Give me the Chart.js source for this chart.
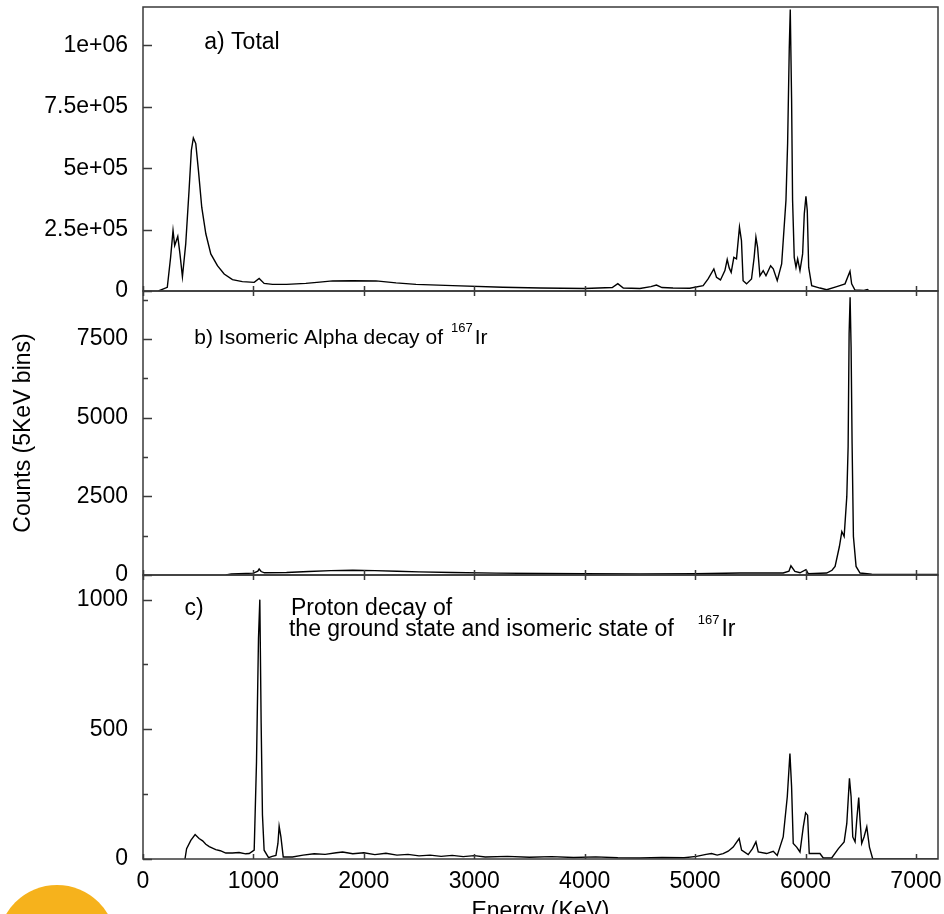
<!DOCTYPE html>
<html>
<head>
<meta charset="utf-8">
<script src="https://cdn.jsdelivr.net/npm/chart.js@4.4.1/dist/chart.umd.min.js"></script>
<style>
  html, body { margin: 0; padding: 0; background: #fff; overflow: hidden; }
  #wrap { position: relative; width: 944px; height: 914px; overflow: hidden; }
  #sun { position: absolute; left: -2px; top: 885px; width: 118px; height: 118px; border-radius: 50%; background: #f6b21c; }
  canvas { position: absolute; left: 0; top: 0; }
</style>
</head>
<body>
<div id="wrap">
  <div id="sun"></div>
  <canvas id="spectra" width="944" height="930"></canvas>
</div>
<script>
// Energy axis (keV)
const energyTicks = [0, 1000, 2000, 3000, 4000, 5000, 6000, 7000];
const energyTickLabels = ['0', '1000', '2000', '3000', '4000', '5000', '6000', '7000'];

// a) total spectrum
const totalEnergy = [140, 180, 220, 250, 272, 287, 315, 335, 357, 387, 417, 438, 456, 478, 502, 532, 569, 614, 674, 735,
  810, 900, 1007, 1052, 1097, 1173, 1300, 1475, 1600, 1717, 1900, 2110, 2292, 2473, 2805, 3259, 3600, 4000, 4250, 4300,
  4350, 4500, 4600, 4650, 4700, 4800, 4952, 5073, 5118, 5170, 5194, 5230, 5270, 5291, 5309, 5327, 5351, 5375, 5402, 5420,
  5435, 5466, 5511, 5535, 5551, 5566, 5587, 5617, 5642, 5684, 5708, 5744, 5784, 5823, 5838, 5853, 5862, 5874, 5883, 5898,
  5914, 5929, 5950, 5974, 5989, 6004, 6016, 6029, 6056, 6131, 6192, 6283, 6358, 6403, 6418, 6448, 6530, 6560, 6580, 7200];
const totalCounts = [0, 8000, 15000, 137000, 246000, 185000, 222000, 150000, 58000, 192000, 409000, 573000, 623000, 600000, 491000, 341000, 233000, 151000, 103000, 69000,
  46000, 38000, 35000, 51000, 31000, 27000, 27000, 31000, 36000, 41000, 42000, 41000, 33000, 27000, 22000, 15000, 12000, 10000, 14000, 30000,
  12000, 10000, 18000, 24000, 14000, 12000, 11000, 22000, 49000, 90000, 56000, 45000, 83000, 128000, 94000, 76000, 137000, 131000, 260000, 205000,
  42000, 29000, 49000, 137000, 219000, 178000, 62000, 83000, 62000, 103000, 90000, 42000, 110000, 369000, 600000, 988000, 1146000, 784000, 369000, 137000,
  96000, 131000, 83000, 151000, 314000, 385000, 328000, 96000, 22000, 12000, 5000, 18000, 29000, 80000, 29000, 4000, 2000, 6000, 0, 0];

// b) isomeric alpha decay of 167Ir
const alphaEnergy = [750, 800, 1000, 1040, 1052, 1070, 1100, 1300, 1500, 1700, 1900, 2100, 2300, 2500, 2800, 3200, 3600, 4000, 4500, 5000,
  5405, 5798, 5850, 5868, 5904, 5950, 6004, 6025, 6192, 6240, 6268, 6307, 6329, 6350, 6374, 6386, 6395, 6404, 6413, 6422,
  6434, 6458, 6494, 6600, 7200];
const alphaCounts = [0, 30, 60, 120, 190, 110, 70, 80, 110, 140, 150, 140, 120, 100, 80, 60, 50, 40, 35, 40,
  63, 63, 120, 294, 114, 70, 168, 41, 63, 150, 272, 905, 1380, 1222, 2488, 4070, 7659, 8818, 7235, 4178,
  1222, 272, 63, 25, 20];

// c) proton decay of the ground and isomeric states
const protonEnergy = [380, 395, 433, 472, 508, 540, 569, 600, 659, 700, 750, 810, 870, 930, 962, 1007, 1028, 1046, 1058, 1070,
  1082, 1097, 1137, 1170, 1204, 1222, 1233, 1249, 1270, 1354, 1450, 1550, 1650, 1750, 1808, 1900, 2000, 2100, 2200, 2300,
  2400, 2500, 2600, 2700, 2800, 2900, 3000, 3100, 3300, 3500, 3700, 3900, 4100, 4300, 4500, 4700, 4900, 5013, 5100, 5149,
  5200, 5254, 5300, 5345, 5399, 5421, 5481, 5520, 5551, 5572, 5648, 5708, 5744, 5798, 5835, 5859, 5874, 5889, 5920, 5950,
  5980, 6001, 6019, 6034, 6131, 6161, 6237, 6298, 6350, 6374, 6398, 6413, 6428, 6449, 6464, 6482, 6494, 6509, 6530, 6555,
  6579, 6609, 7200];
const protonCounts = [0, 40, 72, 94, 79, 70, 57, 48, 36, 32, 23, 23, 25, 20, 21, 34, 375, 852, 1000, 523,
  169, 34, 5, 10, 14, 60, 126, 85, 8, 8, 15, 20, 18, 24, 27, 20, 24, 17, 22, 15,
  18, 12, 15, 10, 14, 9, 13, 8, 10, 7, 9, 6, 8, 5, 4, 6, 5, 10, 18, 21,
  15, 21, 30, 46, 79, 34, 17, 40, 66, 27, 21, 30, 14, 85, 240, 407, 278, 60, 46, 27,
  124, 178, 169, 21, 21, 4, 4, 40, 66, 137, 311, 240, 85, 66, 150, 237, 150, 60, 85, 124,
  46, 0, 0];

// y ticks per panel, empty label = minor tick
const totalTicks = [0, 250000, 500000, 750000, 1000000];
const totalTickLabels = ['0', '2.5e+05', '5e+05', '7.5e+05', '1e+06'];
const alphaTicks = [0, 1250, 2500, 3750, 5000, 6250, 7500, 8750];
const alphaTickLabels = ['0', '', '2500', '', '5000', '', '7500', ''];
const protonTicks = [0, 250, 500, 750, 1000];
const protonTickLabels = ['0', '', '500', '', '1000'];

const FONT = '"Liberation Sans", Arial, Helvetica, sans-serif';
Chart.defaults.font.family = FONT;
Chart.defaults.font.size = 23;
Chart.defaults.color = '#000';

const toPoints = (xs, ys) => xs.map((e, i) => ({ x: e, y: ys[i] }));

function panelAxis(max, values, labels, extra) {
  return Object.assign({
    type: 'linear',
    position: 'left',
    stack: 'spectra',
    stackWeight: 1,
    min: 0,
    max: max,
    grid: { display: false, drawTicks: false },
    border: { display: false },
    afterBuildTicks: s => { s.ticks = values.map(v => ({ value: v })); },
    afterFit: s => { s.width = 143; s.paddingTop = 0; s.paddingBottom = 0; },
    ticks: { padding: 15, autoSkip: false, callback: (v, i) => labels[i] }
  }, extra || {});
}

// frame boxes and inward tick marks for each panel
const panelFrame = {
  id: 'panelFrame',
  afterDatasetsDraw(chart) {
    const { ctx, chartArea, scales } = chart;
    const xs = scales.x;
    ctx.save();
    ctx.strokeStyle = '#3a3a3a';
    ctx.lineWidth = 1.5;
    ['ya', 'yb', 'yc'].forEach(id => {
      const s = scales[id];
      const topPanel = s.top <= chartArea.top + 1;
      ctx.strokeRect(chartArea.left, s.top, chartArea.right - chartArea.left, s.bottom - s.top);
      ctx.beginPath();
      s.ticks.forEach(t => {
        const py = Math.round(s.getPixelForValue(t.value)) + 0.5;
        ctx.moveTo(chartArea.left, py);
        ctx.lineTo(chartArea.left + (t.label ? 9 : 5), py);
      });
      xs.ticks.forEach(t => {
        const px = Math.round(xs.getPixelForValue(t.value)) + 0.5;
        ctx.moveTo(px, s.bottom);
        ctx.lineTo(px, s.bottom - 5);
        if (!topPanel) {
          ctx.moveTo(px, s.top);
          ctx.lineTo(px, s.top + 5);
        }
      });
      ctx.stroke();
    });
    ctx.restore();
  }
};

function drawIsotope(ctx, left, baseline, size) {
  ctx.font = '13px ' + FONT;
  ctx.fillText('167', left, baseline - 12);
  const w = ctx.measureText('167').width;
  ctx.font = size + 'px ' + FONT;
  ctx.fillText('Ir', left + w + 2, baseline);
}

// panel captions
const panelNotes = {
  id: 'panelNotes',
  afterDraw(chart) {
    const { ctx, scales: { x, ya, yb, yc } } = chart;
    ctx.save();
    ctx.fillStyle = '#000';
    ctx.textBaseline = 'alphabetic';
    ctx.font = '23px ' + FONT;
    ctx.fillText('a) Total', x.getPixelForValue(555), ya.top + 42);

    ctx.font = '21px ' + FONT;
    const bText = 'b) Isomeric Alpha decay of';
    const bLeft = x.getPixelForValue(465);
    const bBase = yb.top + 53;
    ctx.fillText(bText, bLeft, bBase);
    drawIsotope(ctx, bLeft + ctx.measureText(bText).width + 8, bBase, 21);

    ctx.font = '23px ' + FONT;
    const cBase = yc.top + 40;
    ctx.fillText('c)', x.getPixelForValue(375), cBase);
    const cLeft = x.getPixelForValue(1340);
    ctx.fillText('Proton decay of', cLeft, cBase);
    const cLine = 'the ground state and isomeric state of';
    ctx.fillText(cLine, cLeft - 2, cBase + 21);
    drawIsotope(ctx, cLeft - 2 + ctx.measureText(cLine).width + 24, cBase + 21, 23);
    ctx.restore();
  }
};

const lineStyle = { borderColor: '#000', borderWidth: 1.4, pointRadius: 0, tension: 0, fill: false };

new Chart(document.getElementById('spectra'), {
  type: 'line',
  data: {
    datasets: [
      Object.assign({ label: 'a) Total', data: toPoints(totalEnergy, totalCounts), yAxisID: 'ya' }, lineStyle),
      Object.assign({ label: 'b) Isomeric Alpha decay', data: toPoints(alphaEnergy, alphaCounts), yAxisID: 'yb' }, lineStyle),
      Object.assign({ label: 'c) Proton decay', data: toPoints(protonEnergy, protonCounts), yAxisID: 'yc' }, lineStyle)
    ]
  },
  options: {
    responsive: false,
    animation: false,
    layout: { padding: { top: 7, right: 6, left: 0, bottom: 0 } },
    plugins: { legend: { display: false }, tooltip: { enabled: false } },
    scales: {
      x: {
        type: 'linear',
        min: 0,
        max: 7200,
        grid: { display: false, drawTicks: false },
        border: { display: false },
        afterBuildTicks: s => { s.ticks = energyTicks.map(v => ({ value: v })); },
        afterFit: s => { s.height = 71; s.paddingLeft = 0; s.paddingRight = 0; },
        ticks: { padding: 9, autoSkip: false, maxRotation: 0, callback: (v, i) => energyTickLabels[i] },
        title: { display: true, text: 'Energy (KeV)', padding: { top: 0, bottom: 5 } }
      },
      // stacked panels are laid out from the last key upward, so c) comes first here
      yc: panelAxis(1095, protonTicks, protonTickLabels),
      yb: panelAxis(9020, alphaTicks, alphaTickLabels, {
        title: { display: true, text: 'Counts (5KeV bins)', padding: { top: 10, bottom: 0 } }
      }),
      ya: panelAxis(1156000, totalTicks, totalTickLabels)
    }
  },
  plugins: [panelFrame, panelNotes]
});
</script>
</body>
</html>
